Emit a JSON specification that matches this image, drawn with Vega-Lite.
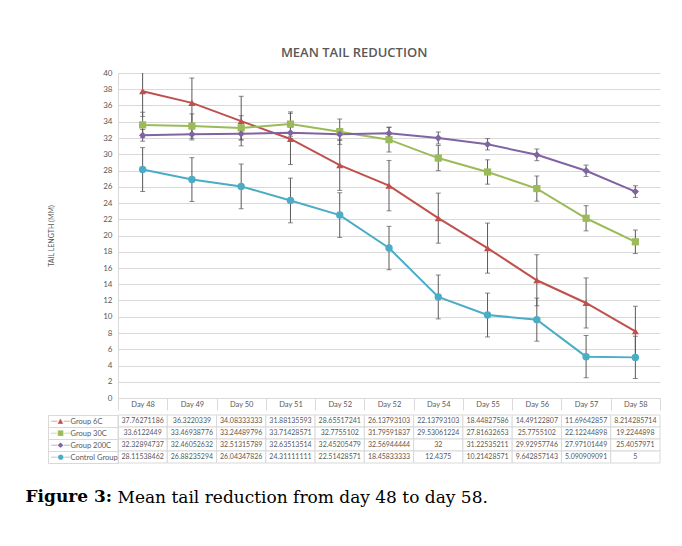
{
  "$schema": "https://vega.github.io/schema/vega-lite/v6.json",
  "background": "white",
  "padding": {"left": 25, "top": 47, "right": 23, "bottom": 10},
  "config": {
    "font": "Lato",
    "view": {"stroke": null},
    "concat": {"spacing": 0}
  },
  "datasets": {
    "series": [
      {"idx": 1, "group": "Group 6C", "mean": 37.76271186, "err": 3.1},
      {"idx": 2, "group": "Group 6C", "mean": 36.3220339, "err": 3.06},
      {"idx": 3, "group": "Group 6C", "mean": 34.08333333, "err": 3.05},
      {"idx": 4, "group": "Group 6C", "mean": 31.88135593, "err": 3.15},
      {"idx": 5, "group": "Group 6C", "mean": 28.65517241, "err": 3.1},
      {"idx": 6, "group": "Group 6C", "mean": 26.13793103, "err": 3.1},
      {"idx": 7, "group": "Group 6C", "mean": 22.13793103, "err": 3.08},
      {"idx": 8, "group": "Group 6C", "mean": 18.44827586, "err": 3.08},
      {"idx": 9, "group": "Group 6C", "mean": 14.49122807, "err": 3.14},
      {"idx": 10, "group": "Group 6C", "mean": 11.69642857, "err": 3.08},
      {"idx": 11, "group": "Group 6C", "mean": 8.214285714, "err": 3.08},
      {"idx": 1, "group": "Group 30C", "mean": 33.6122449, "err": 1.56},
      {"idx": 2, "group": "Group 30C", "mean": 33.46938776, "err": 1.5},
      {"idx": 3, "group": "Group 30C", "mean": 33.24489796, "err": 1.5},
      {"idx": 4, "group": "Group 30C", "mean": 33.71428571, "err": 1.5},
      {"idx": 5, "group": "Group 30C", "mean": 32.7755102, "err": 1.56},
      {"idx": 6, "group": "Group 30C", "mean": 31.79591837, "err": 1.52},
      {"idx": 7, "group": "Group 30C", "mean": 29.53061224, "err": 1.55},
      {"idx": 8, "group": "Group 30C", "mean": 27.81632653, "err": 1.5},
      {"idx": 9, "group": "Group 30C", "mean": 25.7755102, "err": 1.55},
      {"idx": 10, "group": "Group 30C", "mean": 22.12244898, "err": 1.55},
      {"idx": 11, "group": "Group 30C", "mean": 19.2244898, "err": 1.45},
      {"idx": 1, "group": "Group 200C", "mean": 32.32894737, "err": 0.72},
      {"idx": 2, "group": "Group 200C", "mean": 32.46052632, "err": 0.7},
      {"idx": 3, "group": "Group 200C", "mean": 32.51315789, "err": 0.72},
      {"idx": 4, "group": "Group 200C", "mean": 32.63513514, "err": 0.7},
      {"idx": 5, "group": "Group 200C", "mean": 32.45205479, "err": 0.72},
      {"idx": 6, "group": "Group 200C", "mean": 32.56944444, "err": 0.76},
      {"idx": 7, "group": "Group 200C", "mean": 32, "err": 0.74},
      {"idx": 8, "group": "Group 200C", "mean": 31.22535211, "err": 0.7},
      {"idx": 9, "group": "Group 200C", "mean": 29.92957746, "err": 0.72},
      {"idx": 10, "group": "Group 200C", "mean": 27.97101449, "err": 0.7},
      {"idx": 11, "group": "Group 200C", "mean": 25.4057971, "err": 0.72},
      {"idx": 1, "group": "Control Group", "mean": 28.11538462, "err": 2.7},
      {"idx": 2, "group": "Control Group", "mean": 26.88235294, "err": 2.7},
      {"idx": 3, "group": "Control Group", "mean": 26.04347826, "err": 2.75},
      {"idx": 4, "group": "Control Group", "mean": 24.31111111, "err": 2.75},
      {"idx": 5, "group": "Control Group", "mean": 22.51428571, "err": 2.75},
      {"idx": 6, "group": "Control Group", "mean": 18.45833333, "err": 2.67},
      {"idx": 7, "group": "Control Group", "mean": 12.4375, "err": 2.7},
      {"idx": 8, "group": "Control Group", "mean": 10.21428571, "err": 2.7},
      {"idx": 9, "group": "Control Group", "mean": 9.642857143, "err": 2.65},
      {"idx": 10, "group": "Control Group", "mean": 5.090909091, "err": 2.6},
      {"idx": 11, "group": "Control Group", "mean": 5, "err": 2.6}
    ]
  },
  "title": {
    "text": "Figure 3:",
    "orient": "bottom", "anchor": "start", "frame": "bounds",
    "font": "DejaVu Serif", "fontSize": 17, "fontWeight": "bold",
    "color": "black", "offset": -17, "dx": -22
  },
  "spacing": 0,
  "vconcat": [
    {
      "width": 542,
      "height": 325,
      "title": {
        "text": "MEAN TAIL REDUCTION", "font": "Open Sans", "fontSize": 13,
        "fontWeight": 600, "color": "#595959", "anchor": "middle",
        "frame": "bounds", "offset": 9
      },
      "data": {"name": "series"},
      "encoding": {
        "x": {
          "field": "idx", "type": "ordinal",
          "scale": {"type": "band", "paddingInner": 0, "paddingOuter": 0},
          "axis": {
            "title": null,
            "labelExpr": "['Day 48','Day 49','Day 50','Day 51','Day 52','Day 52','Day 54','Day 55','Day 56','Day 57','Day 58'][datum.value - 1]",
            "labelAngle": 0, "tickBand": "extent", "tickSize": 12,
            "tickColor": "#d9d9d9", "domainColor": "#d9d9d9",
            "labelFontSize": 7.5, "labelColor": "#595959",
            "labelPadding": -10, "labelBaseline": "top", "grid": false
          }
        },
        "y": {
          "field": "mean", "type": "quantitative",
          "scale": {"domain": [0, 40], "nice": false, "zero": true},
          "axis": {
            "values": [0, 2, 4, 6, 8, 10, 12, 14, 16, 18, 20, 22, 24, 26, 28, 30, 32, 34, 36, 38, 40],
            "title": "TAIL LENGTH (MM)", "titleFontSize": 7,
            "titleFontWeight": "normal", "titleColor": "#595959",
            "titlePadding": 48, "labelFontSize": 8, "labelColor": "#595959",
            "labelPadding": 6, "ticks": false, "domainColor": "#d9d9d9",
            "gridColor": "#d9d9d9"
          }
        }
      },
      "layer": [
        {
          "mark": {"type": "errorbar", "ticks": {"size": 5, "color": "#595959"}, "color": "#595959", "thickness": 1, "clip": true},
          "encoding": {
            "yError": {"field": "err"},
            "detail": {"field": "group", "type": "nominal"}
          }
        },
        {
          "mark": {"type": "line", "strokeWidth": 2},
          "encoding": {
            "color": {
              "field": "group", "type": "nominal",
              "scale": {"domain": ["Group 6C", "Group 30C", "Group 200C", "Control Group"], "range": ["#c0504d", "#9bbb59", "#8064a2", "#4bacc6"]},
              "legend": null
            }
          }
        },
        {
          "mark": {"type": "point", "filled": true, "opacity": 1},
          "encoding": {
            "color": {"field": "group", "type": "nominal", "legend": null},
            "shape": {
              "field": "group", "type": "nominal",
              "scale": {"domain": ["Group 6C", "Group 30C", "Group 200C", "Control Group"], "range": ["triangle-up", "square", "diamond", "circle"]},
              "legend": null
            },
            "size": {
              "field": "group", "type": "nominal",
              "scale": {"domain": ["Group 6C", "Group 30C", "Group 200C", "Control Group"], "range": [50, 55, 40, 65]},
              "legend": null
            }
          }
        }
      ]
    },
    {
      "width": 542,
      "height": 48,
      "title": {
        "text": "Mean tail reduction from day 48 to day 58.",
        "orient": "bottom", "anchor": "start", "frame": "bounds",
        "font": "DejaVu Serif", "fontSize": 17, "fontWeight": "normal",
        "color": "black", "offset": 26, "dx": 70
      },
      "data": {"name": "series"},
      "encoding": {
        "x": {
          "field": "idx", "type": "ordinal",
          "scale": {"type": "band", "paddingInner": 0, "paddingOuter": 0},
          "axis": null
        }
      },
      "resolve": {"axis": {"y": "independent"}},
      "layer": [
        {
          "mark": {"type": "rect", "fill": "white", "stroke": "#d9d9d9", "strokeWidth": 1},
          "encoding": {
            "y": {
              "field": "group", "type": "nominal",
              "sort": ["Group 6C", "Group 30C", "Group 200C", "Control Group"],
              "scale": {"paddingInner": 0, "paddingOuter": 0},
              "axis": {
                "title": null, "orient": "left", "domainColor": "#d9d9d9",
                "tickColor": "#d9d9d9", "tickSize": 70, "tickBand": "extent",
                "labelAlign": "left", "labelPadding": -22, "labelFontSize": 7.5,
                "labelColor": "#595959", "labelLimit": 0
              }
            }
          }
        },
        {
          "mark": {"type": "text", "fontSize": 7, "color": "#595959"},
          "encoding": {
            "y": {"field": "group", "type": "nominal", "sort": ["Group 6C", "Group 30C", "Group 200C", "Control Group"], "axis": null},
            "text": {"field": "mean", "type": "quantitative"}
          }
        },
        {
          "mark": {"type": "rect", "opacity": 0},
          "encoding": {
            "y": {
              "field": "group", "type": "nominal",
              "sort": ["Group 6C", "Group 30C", "Group 200C", "Control Group"],
              "axis": {
                "title": null, "orient": "left", "offset": 70,
                "domainColor": "#d9d9d9", "ticks": false, "tickSize": 0,
                "labelExpr": "datum.value === 'Group 6C' ? '—▲—' : datum.value === 'Group 30C' ? '—■—' : datum.value === 'Group 200C' ? '—◆—' : '—●—'",
                "labelAlign": "center", "labelPadding": -12, "labelFontSize": 7,
                "labelFont": "DejaVu Sans",
                "labelColor": {
                  "condition": [
                    {"test": "datum.value === 'Group 6C'", "value": "#c0504d"},
                    {"test": "datum.value === 'Group 30C'", "value": "#9bbb59"},
                    {"test": "datum.value === 'Group 200C'", "value": "#8064a2"}
                  ],
                  "value": "#4bacc6"
                }
              }
            }
          }
        }
      ]
    }
  ]
}
